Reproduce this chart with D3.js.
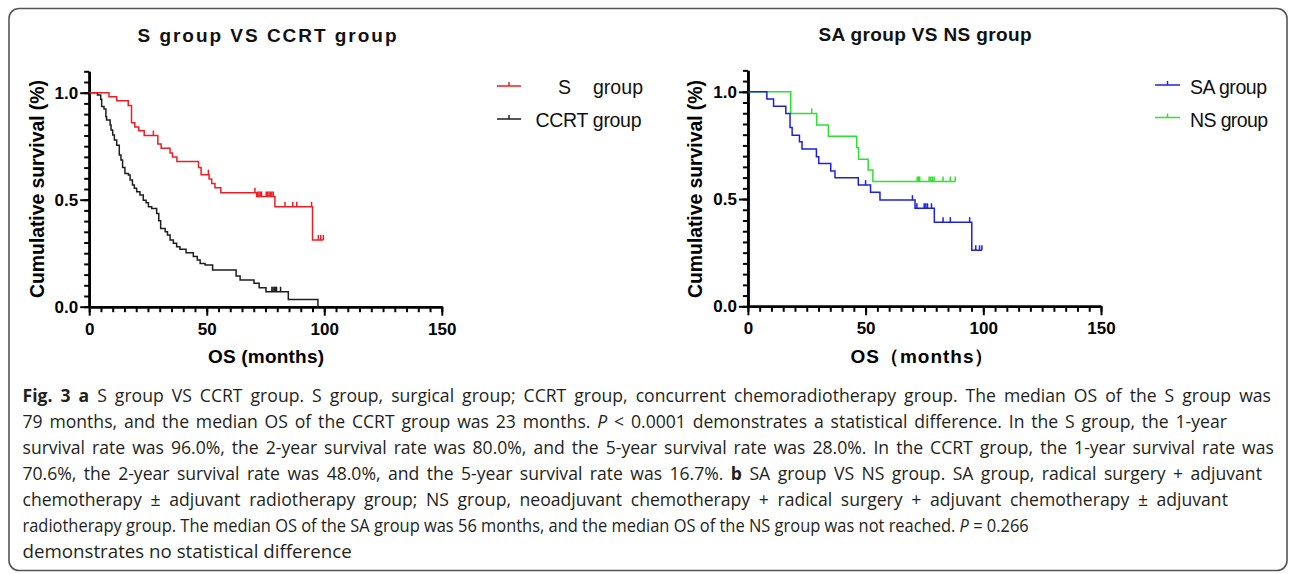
<!DOCTYPE html>
<html><head><meta charset="utf-8">
<script src="https://cdn.jsdelivr.net/npm/d3@7"></script>
<style>body{margin:0;background:#fff;} svg{display:block;}</style>
</head><body>
<svg id="c" width="1290" height="574"></svg>
<script>
// ---------------- data ----------------
const xTickValues = [0, 50, 100, 150];
const yTickValues = [0, 0.5, 1.0];

// Panel a: S group (red)
const sTimes = [8.4, 11.7, 16.6, 18.0, 19.4, 21.1, 23.4, 29.2, 30.6, 34.4, 35.4, 37.3, 46.5, 47.6, 51.0, 52.1, 53.5, 56.0, 71.2, 79.0, 95.0];
const sSurv  = [0.981, 0.962, 0.940, 0.860, 0.840, 0.822, 0.800, 0.760, 0.740, 0.718, 0.700, 0.678, 0.650, 0.617, 0.597, 0.576, 0.556, 0.533, 0.515, 0.467, 0.312];
const sCensor = [27.3, 50.7, 70.5, 71.6, 72.2, 72.8, 73.3, 75.3, 75.9, 76.5, 77.1, 77.7, 78.3, 83.3, 86.6, 88.3, 94.6, 97.5, 98.5, 99.6];
const sEnd = 99.6;

// Panel a: CCRT group (black)
const ccrtTimes = [3.5, 4.9, 5.3, 6.3, 7.1, 7.4, 8.9, 9.3, 10.0, 10.7, 11.7, 12.8, 13.5, 14.2, 15.2, 16.7, 17.4, 18.4, 19.2, 20.2, 21.6, 23.0, 24.2, 25.2, 26.6, 28.7, 29.6, 30.4, 32.3, 33.3, 34.4, 35.8, 37.2, 38.6, 41.2, 44.3, 46.0, 47.2, 49.3, 52.5, 62.5, 64.2, 70.1, 72.3, 75.2, 84.7, 97.3];
const ccrtSurv  = [0.989, 0.969, 0.935, 0.924, 0.888, 0.872, 0.849, 0.826, 0.802, 0.779, 0.755, 0.709, 0.685, 0.651, 0.623, 0.615, 0.592, 0.569, 0.553, 0.537, 0.522, 0.498, 0.486, 0.467, 0.459, 0.436, 0.402, 0.366, 0.350, 0.335, 0.312, 0.296, 0.280, 0.268, 0.252, 0.234, 0.218, 0.202, 0.195, 0.171, 0.143, 0.125, 0.109, 0.089, 0.070, 0.034, 0];
const ccrtCensor = [77.7, 78.2, 78.7, 79.2, 79.7, 81.4];
const ccrtEnd = 97.3;

// Panel b: SA group (blue)
const saTimes = [8.05, 10.9, 16.1, 17.9, 18.8, 21.9, 23.0, 29.1, 30.1, 35.2, 37.0, 46.9, 52.1, 56.1, 71.0, 79.2, 95.1];
const saSurv  = [0.966, 0.933, 0.899, 0.834, 0.798, 0.767, 0.733, 0.697, 0.666, 0.631, 0.599, 0.565, 0.532, 0.495, 0.457, 0.392, 0.261];
const saCensor = [50.0, 69.9, 71.8, 74.9, 75.6, 76.3, 78.0, 82.9, 86.0, 94.2, 96.8, 98.4, 99.4];
const saEnd = 99.4;

// Panel b: NS group (green)
const nsTimes = [18.2, 29.2, 34.2, 46.2, 47.0, 51.1, 53.1];
const nsSurv  = [0.899, 0.845, 0.793, 0.740, 0.686, 0.635, 0.582];
const nsCensor = [27.1, 71.9, 72.5, 73.0, 77.0, 77.7, 78.4, 79.1, 82.9, 86.0, 88.1];
const nsEnd = 88.1;

const titles = ["S group VS CCRT group", "SA group VS NS group"];
const xTitles = ["OS (months)", "OS（months）"];
const yTitle = "Cumulative survival (%)";
const legendA = ["S    group", "CCRT group"];
const legendB = ["SA group", "NS group"];

const captionLines = [
  [["Fig. 3 a", "b"], [" S group VS CCRT group. S group, surgical group; CCRT group, concurrent chemoradiotherapy group. The median OS of the S group was", "n"]],
  [["79 months, and the median OS of the CCRT group was 23 months. ", "n"], ["P", "i"], [" < 0.0001 demonstrates a statistical difference. In the S group, the 1-year", "n"]],
  [["survival rate was 96.0%, the 2-year survival rate was 80.0%, and the 5-year survival rate was 28.0%. In the CCRT group, the 1-year survival rate was", "n"]],
  [["70.6%, the 2-year survival rate was 48.0%, and the 5-year survival rate was 16.7%. ", "n"], ["b", "b"], [" SA group VS NS group. SA group, radical surgery + adjuvant", "n"]],
  [["chemotherapy ± adjuvant radiotherapy group; NS group, neoadjuvant chemotherapy + radical surgery + adjuvant chemotherapy ± adjuvant", "n"]],
  [["radiotherapy group. The median OS of the SA group was 56 months, and the median OS of the NS group was not reached. ", "n"], ["P", "i"], [" = 0.266", "n"]],
  [["demonstrates no statistical difference", "n"]]
];
const captionRight = [1272, 1228, 1275, 1263, 1229, 1030, 352];
const captionJustified = [true, true, true, true, true, false, false];

// ---------------- drawing ----------------
const svg = d3.select("#c");
const FONT = "'Liberation Sans', Arial, Helvetica, sans-serif";

svg.append("rect").attr("x", 9).attr("y", 8.5).attr("width", 1278).attr("height", 562)
  .attr("rx", 10).attr("fill", "none").attr("stroke", "#555").attr("stroke-width", 1.6);

function fitText(sel, target) {
  const L = sel.node().getComputedTextLength();
  const n = sel.text().length;
  if (n > 1) sel.attr("letter-spacing", ((target - L) / (n - 1)).toFixed(3));
}

function stepValue(times, surv, t) {
  let v = 1;
  for (let i = 0; i < times.length; i++) if (times[i] <= t) v = surv[i];
  return v;
}

const panels = [
  {
    xr: [89.2, 441.8], y0: 306.7, y1: 92.7,
    title: titles[0], titleX: 267, titleY: 41.5, titleSize: 19, titleW: 259,
    xTitle: xTitles[0], xTitleX: 266, xTitleW: 116, xTitleSize: 19,
    yTitleX: 44, yTitleW: 218,
    series: [
      { times: ccrtTimes, surv: ccrtSurv, censor: ccrtCensor, end: ccrtEnd, color: "#1e1e1e" },
      { times: sTimes, surv: sSurv, censor: sCensor, end: sEnd, color: "#ee1d23" }
    ],
    legend: [
      { label: legendA[0], color: "#ee1d23", lx: 497, lx2: 521, ly: 86, tx: 558, ty: 93.5, tw: 85 },
      { label: legendA[1], color: "#1e1e1e", lx: 497, lx2: 521, ly: 119, tx: 535.5, ty: 126.5, tw: 106 }
    ]
  },
  {
    xr: [747.9, 1101.0], y0: 306.3, y1: 91.8,
    title: titles[1], titleX: 925, titleY: 40.5, titleSize: 19, titleW: 213,
    xTitle: xTitles[1], xTitleX: 922, xTitleW: 143, xTitleSize: 19,
    yTitleX: 702, yTitleW: 218,
    series: [
      { times: nsTimes, surv: nsSurv, censor: nsCensor, end: nsEnd, color: "#2ee02e" },
      { times: saTimes, surv: saSurv, censor: saCensor, end: saEnd, color: "#1f1fe0" }
    ],
    legend: [
      { label: legendB[0], color: "#1f1fe0", lx: 1155, lx2: 1180, ly: 85, tx: 1190, ty: 94, tw: 77 },
      { label: legendB[1], color: "#2ee02e", lx: 1155, lx2: 1180, ly: 117.5, tx: 1190, ty: 126.5, tw: 78 }
    ]
  }
];

panels.forEach(p => {
  const x = d3.scaleLinear().domain([0, 150]).range(p.xr);
  const unit = p.y0 - p.y1;
  const y = d3.scaleLinear().domain([0, 1.1]).range([p.y0, p.y0 - 1.1 * unit]);
  const g = svg.append("g");

  const yMinor = g.append("g").attr("transform", `translate(${p.xr[0]},0)`)
    .call(d3.axisLeft(y).tickValues(d3.range(0, 22).map(i => i * 0.05).concat([1.1])).tickSize(5).tickSizeOuter(0).tickFormat(""));
  const yMajor = g.append("g").attr("transform", `translate(${p.xr[0]},0)`)
    .call(d3.axisLeft(y).tickValues(yTickValues).tickSize(9).tickSizeOuter(0).tickPadding(2).tickFormat(d3.format(".1f")));
  const xMinor = g.append("g").attr("transform", `translate(0,${p.y0})`)
    .call(d3.axisBottom(x).tickValues(d3.range(0, 31).map(i => i * 5)).tickSize(5.5).tickSizeOuter(0).tickFormat(""));
  const xMajor = g.append("g").attr("transform", `translate(0,${p.y0})`)
    .call(d3.axisBottom(x).tickValues(xTickValues).tickSize(9).tickSizeOuter(0).tickPadding(7).tickFormat(d3.format("d")));
  [yMinor, yMajor, xMinor, xMajor].forEach(a => {
    a.select(".domain").attr("stroke", "#000").attr("stroke-width", 2.6);
    a.selectAll(".tick line").attr("stroke", "#000").attr("stroke-width", 2);
    a.selectAll("text").attr("font-family", FONT).attr("font-weight", "bold")
      .attr("font-size", 17).attr("fill", "#000");
  });

  const line = d3.line().x(d => x(d[0])).y(d => y(d[1])).curve(d3.curveStepAfter);
  p.series.forEach(s => {
    const pts = [[0, 1]].concat(s.times.map((t, i) => [t, s.surv[i]]));
    pts.push([s.end, s.surv[s.surv.length - 1]]);
    g.append("path").attr("d", line(pts)).attr("fill", "none")
      .attr("stroke", s.color).attr("stroke-width", 1.5);
    g.selectAll(null).data(s.censor).enter().append("line")
      .attr("x1", d => x(d)).attr("x2", d => x(d))
      .attr("y1", d => y(stepValue(s.times, s.surv, d)))
      .attr("y2", d => y(stepValue(s.times, s.surv, d)) - 5)
      .attr("stroke", s.color).attr("stroke-width", 1.5);
  });

  const t = g.append("text").attr("x", p.titleX - p.titleW / 2).attr("y", p.titleY)
    .attr("font-family", FONT).attr("font-weight", "bold").attr("font-size", p.titleSize)
    .attr("fill", "#111").text(p.title);
  fitText(t, p.titleW);

  const xt = g.append("text").attr("x", p.xTitleX - p.xTitleW / 2).attr("y", 363)
    .attr("font-family", FONT).attr("font-weight", "bold").attr("font-size", p.xTitleSize)
    .attr("fill", "#000").text(p.xTitle);
  fitText(xt, p.xTitleW);

  const yt = g.append("text").attr("transform", `translate(${p.yTitleX},${189 + p.yTitleW / 2}) rotate(-90)`)
    .attr("font-family", FONT).attr("font-weight", "bold").attr("font-size", 19.5)
    .attr("fill", "#000").text(yTitle);
  fitText(yt, p.yTitleW);

  p.legend.forEach(l => {
    g.append("line").attr("x1", l.lx).attr("x2", l.lx2).attr("y1", l.ly).attr("y2", l.ly)
      .attr("stroke", l.color).attr("stroke-width", 1.5);
    const mx = (l.lx + l.lx2) / 2;
    g.append("line").attr("x1", mx).attr("x2", mx).attr("y1", l.ly).attr("y2", l.ly - 4)
      .attr("stroke", l.color).attr("stroke-width", 1.5);
    const lt = g.append("text").attr("x", l.tx).attr("y", l.ty)
      .attr("font-family", FONT).attr("font-size", 19.5).attr("fill", "#111")
      .style("white-space", "pre").text(l.label);
    fitText(lt, l.tw);
  });
});

// caption: unjustified lines scaled to their extent; justified lines share the mean scale and are widened by word spacing
const CAPFONT = "'Open Sans', 'Noto Sans', sans-serif";
const X0 = 22.5;
const capTexts = captionLines.map((segs, i) => {
  const grp = svg.append("g");
  const txt = grp.append("text").attr("x", 0).attr("y", 0)
    .attr("font-family", CAPFONT).attr("font-size", 17.5).attr("fill", "#231f20")
    .style("white-space", "pre");
  segs.forEach(s => {
    const ts = txt.append("tspan").text(s[0]);
    if (s[1] === "b") ts.attr("font-weight", "bold");
    if (s[1] === "i") ts.attr("font-style", "italic");
  });
  return { grp, txt, w: txt.node().getComputedTextLength() };
});
const ratios = capTexts.map((c, i) => (captionRight[i] - X0) / c.w).filter((r, i) => !captionJustified[i]);
const sxMean = d3.mean(ratios);
capTexts.forEach((c, i) => {
  let sx = sxMean;
  if (captionJustified[i]) {
    const spaces = (c.txt.text().match(/ /g) || []).length;
    const extra = (captionRight[i] - X0) / sx - c.w;
    c.txt.attr("word-spacing", (extra / spaces).toFixed(3));
  } else {
    sx = (captionRight[i] - X0) / c.w;
  }
  c.grp.attr("transform", `translate(${X0},${401.5 + i * 26}) scale(${sx.toFixed(4)},1)`);
});
</script>
</body></html>
